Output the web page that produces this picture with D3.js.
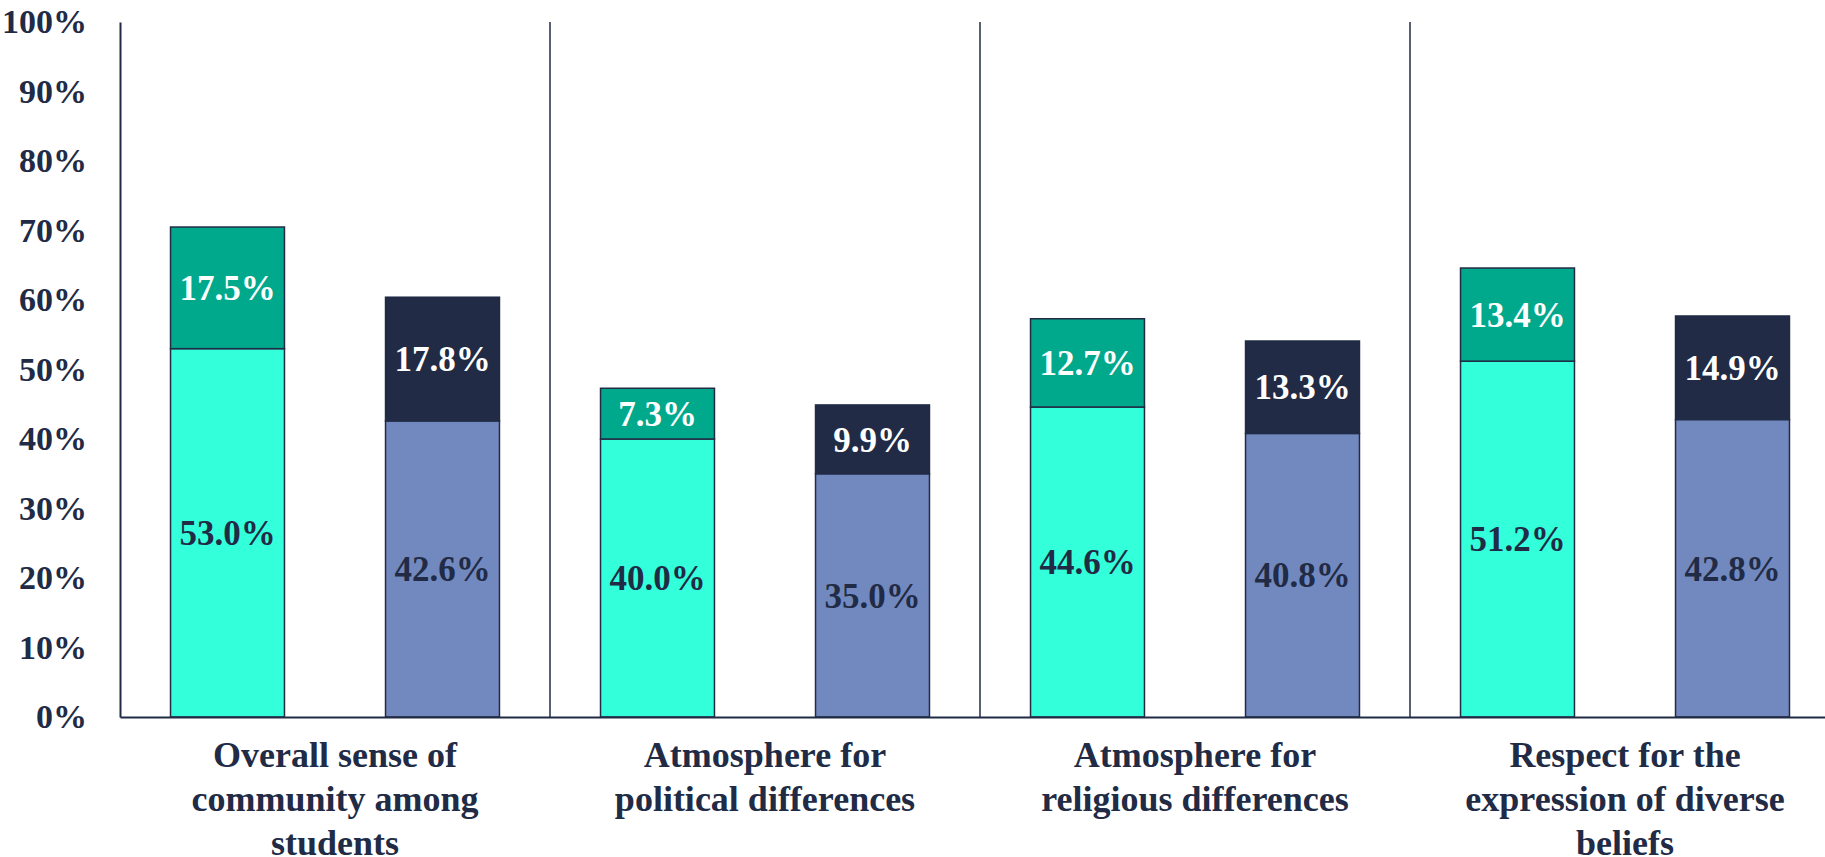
<!DOCTYPE html>
<meta charset="utf-8">
<style>
body { margin: 0; background: #fff; }
text { font-family: "Liberation Serif", "Times New Roman", serif; font-weight: bold; }
.tick-label { fill: #212b45; font-size: 34px; }
.cat-label { fill: #212b45; font-size: 36px; }
.val { font-size: 35px; }
.bar { stroke: #212b45; stroke-width: 1.5px; }
.sep { stroke: #212b45; stroke-width: 1.5px; }
</style>
<svg width="1825" height="857"></svg>
<script src="https://d3js.org/d3.v7.min.js"></script>
<script>

// values (percent)
var categories = [
  ["Overall sense of", "community among", "students"],
  ["Atmosphere for", "political differences"],
  ["Atmosphere for", "religious differences"],
  ["Respect for the", "expression of diverse", "beliefs"]
];
var bottomA = [53.0, 40.0, 44.6, 51.2];
var topA    = [17.5, 7.3, 12.7, 13.4];
var bottomB = [42.6, 35.0, 40.8, 42.8];
var topB    = [17.8, 9.9, 13.3, 14.9];
var yTicks  = [0, 10, 20, 30, 40, 50, 60, 70, 80, 90, 100];

var svg = d3.select("svg");

var mLeft = 120, mRight = 1840, mTop = 22, mBottom = 717;

var x0 = d3.scaleBand()
  .domain(d3.range(categories.length))
  .range([mLeft, mRight]);

var x1 = d3.scaleBand()
  .domain([0, 1])
  .range([0, x0.bandwidth()])
  .paddingInner(0.47)
  .paddingOuter(0.235);

var y = d3.scaleLinear().domain([0, 100]).range([mBottom, mTop]);

// series: lower fill, upper fill, lower text, upper text
var groups = [
  { lower: bottomA, upper: topA, fillLo: "#33ffdb", fillHi: "#00a98c", textLo: "#212b45", textHi: "#ffffff" },
  { lower: bottomB, upper: topB, fillLo: "#7189bf", fillHi: "#212b45", textLo: "#212b45", textHi: "#ffffff" }
];

// category separators
svg.append("g").selectAll("line")
  .data(d3.range(1, categories.length))
  .join("line")
  .attr("class", "sep")
  .attr("x1", function(d) { return x0(d); })
  .attr("x2", function(d) { return x0(d); })
  .attr("y1", y(100))
  .attr("y2", y(0));

// bars
var segs = [];
groups.forEach(function(g, gi) {
  categories.forEach(function(c, ci) {
    var lo = g.lower[ci], hi = g.upper[ci];
    segs.push({ ci: ci, gi: gi, y0: 0, y1: lo, fill: g.fillLo, text: g.textLo, v: lo });
    segs.push({ ci: ci, gi: gi, y0: lo, y1: lo + hi, fill: g.fillHi, text: g.textHi, v: hi });
  });
});

var bars = svg.append("g");
bars.selectAll("rect")
  .data(segs)
  .join("rect")
  .attr("class", "bar")
  .attr("x", function(d) { return x0(d.ci) + x1(d.gi); })
  .attr("width", x1.bandwidth())
  .attr("y", function(d) { return y(d.y1); })
  .attr("height", function(d) { return y(d.y0) - y(d.y1); })
  .attr("fill", function(d) { return d.fill; });

bars.selectAll("text")
  .data(segs)
  .join("text")
  .attr("class", "val")
  .attr("text-anchor", "middle")
  .attr("dy", "0.35em")
  .attr("x", function(d) { return x0(d.ci) + x1(d.gi) + x1.bandwidth() / 2; })
  .attr("y", function(d) { return (y(d.y0) + y(d.y1)) / 2; })
  .attr("fill", function(d) { return d.text; })
  .text(function(d) { return d.v.toFixed(1) + "%"; });

// y axis
var yAxis = svg.append("g")
  .attr("transform", "translate(" + mLeft + ",0)")
  .call(d3.axisLeft(y).tickValues(yTicks).tickSize(0).tickPadding(33)
    .tickFormat(function(d) { return d + "%"; }));
yAxis.select(".domain").attr("stroke", "#212b45").attr("stroke-width", 2);
yAxis.selectAll(".tick text").attr("class", "tick-label").attr("font-size", null)
  .attr("font-family", null).attr("fill", null);
yAxis.attr("font-size", null).attr("font-family", null);

// x axis
var xAxis = svg.append("g")
  .attr("transform", "translate(0," + mBottom + ")")
  .call(d3.axisBottom(x0).tickSize(0).tickFormat(""));
xAxis.select(".domain").attr("stroke", "#212b45").attr("stroke-width", 2);
xAxis.attr("font-size", null).attr("font-family", null);

xAxis.selectAll(".tick text").remove();
xAxis.selectAll(".tick").append("text")
  .attr("class", "cat-label")
  .attr("text-anchor", "middle")
  .selectAll("tspan")
  .data(function(d) { return categories[d]; })
  .join("tspan")
  .attr("x", 0)
  .attr("y", function(d, i) { return 50 + i * 44; })
  .text(function(d) { return d; });

</script>
